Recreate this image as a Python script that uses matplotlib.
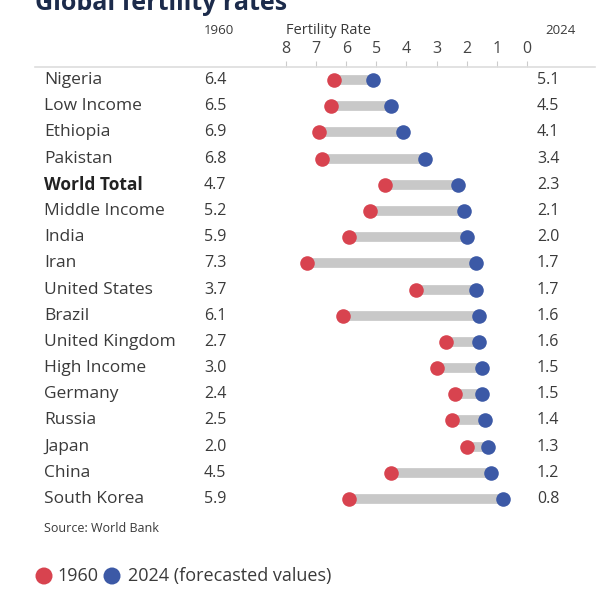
import matplotlib.pyplot as plt
import matplotlib.transforms as mtransforms

plt.rcParams['font.family'] = ['Open Sans', 'DejaVu Sans']

countries = ["Nigeria", "Low Income", "Ethiopia", "Pakistan", "World Total",
             "Middle Income", "India", "Iran", "United States", "Brazil",
             "United Kingdom", "High Income", "Germany", "Russia", "Japan",
             "China", "South Korea"]
rate_1960 = [6.4, 6.5, 6.9, 6.8, 4.7, 5.2, 5.9, 7.3, 3.7, 6.1, 2.7, 3.0, 2.4, 2.5, 2.0, 4.5, 5.9]
rate_2024 = [5.1, 4.5, 4.1, 3.4, 2.3, 2.1, 2.0, 1.7, 1.7, 1.6, 1.6, 1.5, 1.5, 1.4, 1.3, 1.2, 0.8]
ticks = [8, 7, 6, 5, 4, 3, 2, 1, 0]

RED = "#d8434f"
BLUE = "#3c59a6"
GREY = "#c8c8c8"
TXT = "#3a3a3a"

fig = plt.figure(figsize=(6, 6), dpi=100)
# axes spans pixel x 35..595, y 67..515
ax = fig.add_axes([35 / 600, 1 - 515 / 600, 560 / 600, 448 / 600])
ax.set_xlim(16.33, -2.257)
ax.set_ylim(16.61, -0.496)

rows = list(range(len(countries)))
ax.hlines(rows, rate_1960, rate_2024, color=GREY, lw=7, zorder=1)
ax.scatter(rate_1960, rows, s=110, color=RED, zorder=2, linewidths=0)
ax.scatter(rate_2024, rows, s=110, color=BLUE, zorder=2, linewidths=0)

for s in ["left", "right", "bottom"]:
    ax.spines[s].set_visible(False)
ax.spines["top"].set_color("#dddddd")
ax.spines["top"].set_linewidth(1.2)
ax.xaxis.tick_top()
ax.set_xticks(ticks)
ax.set_xticklabels([str(t) for t in ticks])
ax.tick_params(axis="x", length=4, color="#cccccc", labelsize=11.5,
               labelcolor="#444444", pad=3)
ax.set_yticks([])

tr = mtransforms.blended_transform_factory(fig.transFigure, ax.transData)
for i, name in enumerate(countries):
    bold = name == "World Total"
    ax.text(44 / 600, i, name, transform=tr, ha="left", va="center",
            fontsize=12.5, color="#222222" if bold else TXT,
            fontweight="bold" if bold else "normal")
    ax.text(204 / 600, i, f"{rate_1960[i]:.1f}", transform=tr, ha="left",
            va="center", fontsize=11.5, color=TXT)
    ax.text(537 / 600, i, f"{rate_2024[i]:.1f}", transform=tr, ha="left",
            va="center", fontsize=11.5, color=TXT)

fig.text(35 / 600, 1 - 10 / 600, "Global fertility rates", ha="left",
         va="baseline", fontsize=18, fontweight="bold", color="#1c2b4b")
fig.text(204 / 600, 1 - 30 / 600, "1960", ha="left", va="center",
         fontsize=9.5, color=TXT)
fig.text(286 / 600, 1 - 30 / 600, "Fertility Rate", ha="left", va="center",
         fontsize=10.5, color=TXT)
fig.text(545 / 600, 1 - 30 / 600, "2024", ha="left", va="center",
         fontsize=9.5, color=TXT)
fig.text(44 / 600, 1 - 529 / 600, "Source: World Bank", ha="left",
         va="center", fontsize=9, color=TXT)

# legend
leg_y = 1 - 576 / 600
ax.scatter([44 / 600, 112 / 600], [leg_y, leg_y], s=150, color=[RED, BLUE],
           linewidths=0, transform=fig.transFigure, clip_on=False)
fig.text(57 / 600, leg_y, "1960", ha="left", va="center",
         fontsize=13, color=TXT)
fig.text(128 / 600, leg_y, "2024 (forecasted values)", ha="left",
         va="center", fontsize=13, color=TXT)

fig.savefig("out.png", dpi=100)
